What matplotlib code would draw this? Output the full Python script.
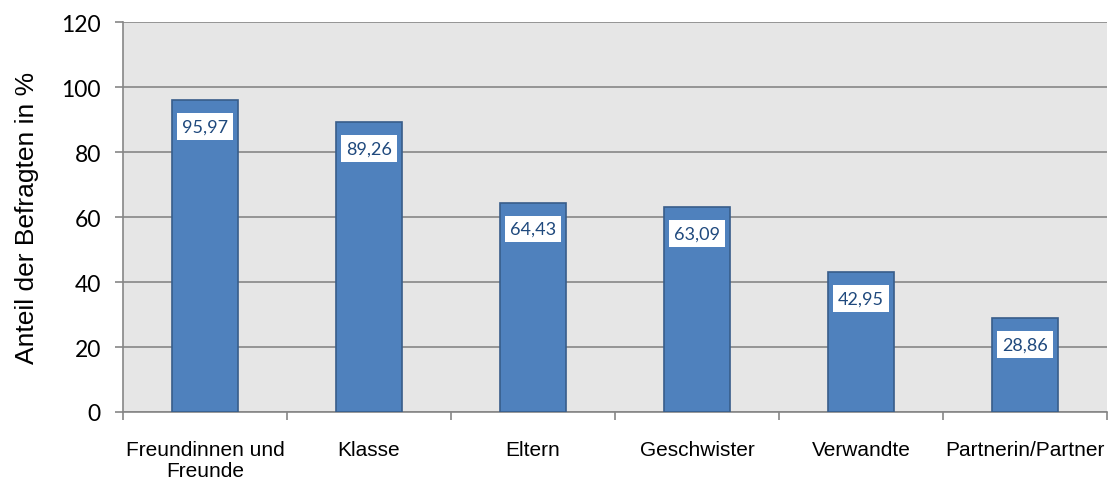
import numpy as np
import matplotlib.pyplot as plt

# data
categories = ["Freundinnen und\nFreunde", "Klasse", "Eltern", "Geschwister", "Verwandte", "Partnerin/Partner"]
values = [95.97, 89.26, 64.43, 63.09, 42.95, 28.86]
yticks = [0, 20, 40, 60, 80, 100, 120]

fig = plt.figure(figsize=(11.1, 4.81), dpi=100)
ax = fig.add_axes([0.1108, 0.1414, 0.8865, 0.8106])
ax.set_facecolor("#e6e6e6")

x = np.arange(len(categories))
ax.bar(x, values, width=0.4, color="#4f81bd", edgecolor="#385d8a", linewidth=1.2, zorder=3)

# value labels in white boxes
for xi, v in zip(x, values):
    ax.annotate(f"{v:.2f}".replace(".", ","), (xi, v), xytext=(0, -19), textcoords="offset points",
                ha="center", va="center", fontsize=13, color="#1f497d", family="Lato",
                bbox=dict(boxstyle="square,pad=0.3", fc="white", ec="none"), zorder=4)

ax.set_xlim(-0.5, len(categories) - 0.5)
ax.set_ylim(0, 120)
ax.set_yticks(yticks)
ax.yaxis.grid(True, color="#868686", linewidth=1.2, zorder=0)

# x ticks at category boundaries, labels centered
ax.set_xticks(np.arange(-0.5, len(categories) + 0.5, 1))
ax.set_xticklabels([])
ax.set_xticks(x, minor=True)
ax.set_xticklabels(categories, minor=True, fontsize=15, family="Liberation Sans", linespacing=1.15)
ax.tick_params(axis="x", which="minor", length=0, pad=20)
ax.tick_params(axis="x", which="major", length=6, color="#868686", width=1.2)
ax.tick_params(axis="y", length=6, color="#868686", width=1.2, labelsize=16.5, pad=10)
for lab in ax.get_yticklabels():
    lab.set_family("Lato")

for s in ["top", "right"]:
    ax.spines[s].set_visible(False)
for s in ["left", "bottom"]:
    ax.spines[s].set_color("#868686")
    ax.spines[s].set_linewidth(1.2)

ax.set_ylabel("Anteil der Befragten in %", fontsize=19, family="Liberation Sans", labelpad=16)

fig.savefig("out.png", dpi=100)
